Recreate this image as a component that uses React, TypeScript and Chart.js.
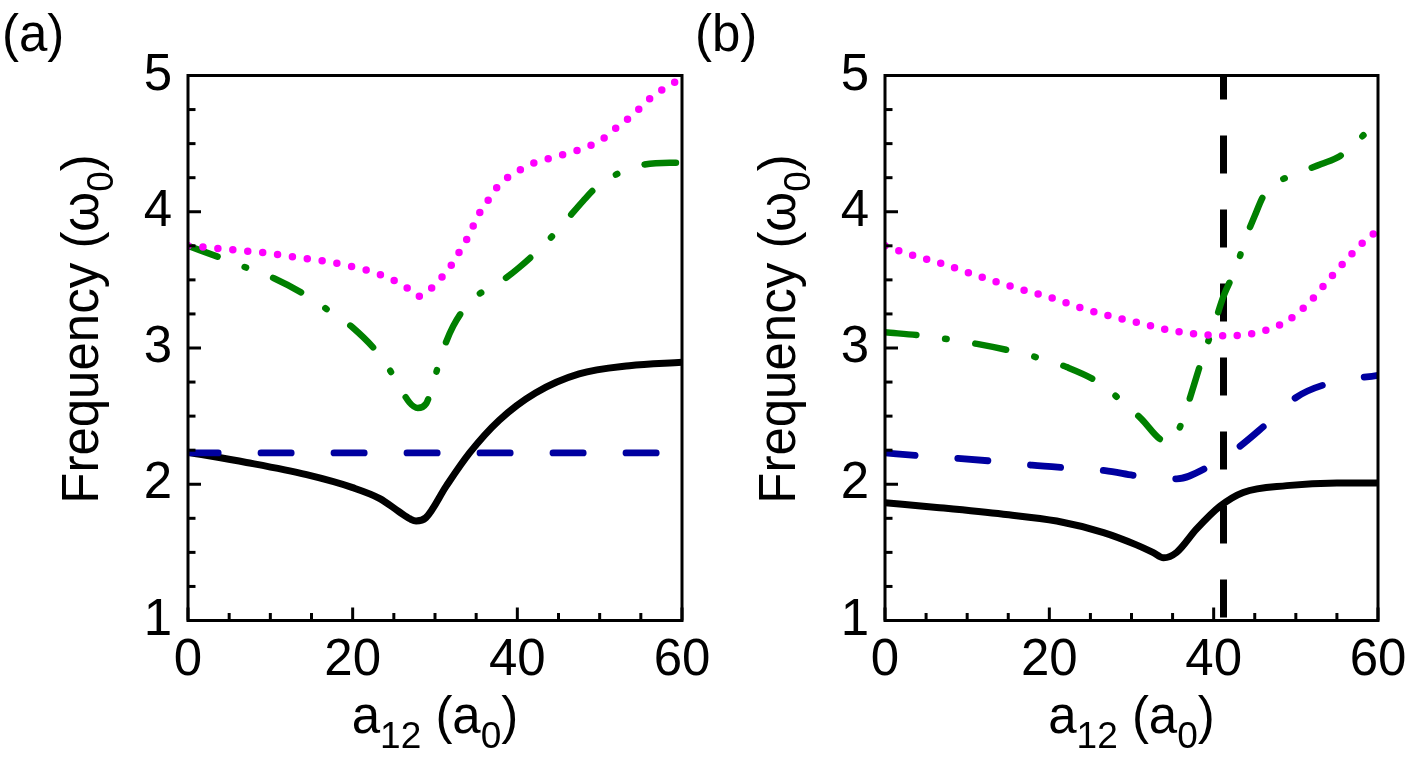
import React, { useEffect, useRef } from "react";
import { Chart, registerables } from "chart.js";

Chart.register(...registerables);

const FONT = '"Liberation Sans", Arial, Helvetica, sans-serif';

// ---------- axis ticks ----------
const xTickValues = [0, 20, 40, 60];
const yTickValues = [1, 2, 3, 4, 5];
const xMinorStep = 5;
const yMinorStep = 0.25;

// ---------- panel (a) ----------
const aSolidX = [0, 7.1, 14.4, 20.0, 23.3, 25.6, 27.0, 27.7, 28.9, 31.4, 34.2, 37.8, 42.2, 47.5, 53.6, 60];
const aSolidY = [2.235, 2.16, 2.07, 1.975, 1.895, 1.8, 1.745, 1.73, 1.755, 1.99, 2.23, 2.47, 2.67, 2.81, 2.87, 2.895];

const aDashX = [0, 60];
const aDashY = [2.23, 2.23];

const aDashDotX = [0, 4.5, 7.5, 10.5, 14.8, 17.2, 20.0, 23.5, 25.3, 26.9, 27.9, 28.9, 29.9, 30.9, 32.2, 34.6, 37.6, 40.2, 43.6, 45.7, 48.0, 49.6, 51.9, 54.9, 58.5, 60];
const aDashDotY = [3.75, 3.65, 3.58, 3.51, 3.37, 3.27, 3.15, 2.93, 2.76, 2.6, 2.56, 2.59, 2.77, 2.97, 3.16, 3.36, 3.47, 3.59, 3.78, 3.92, 4.08, 4.18, 4.27, 4.34, 4.36, 4.36];

const aDotX = [0, 1.9, 5.5, 9.1, 12.7, 16.3, 19.8, 23.3, 26.4, 28.0, 29.4, 30.7, 31.9, 32.9, 33.8, 34.6, 35.4, 36.4, 37.4, 38.8, 40.4, 42.1, 43.8, 45.6, 47.3, 49.0, 50.5, 51.9, 53.2, 54.7, 56.1, 57.7, 59.4, 60];
const aDotY = [3.75, 3.74, 3.72, 3.7, 3.67, 3.64, 3.6, 3.54, 3.45, 3.38, 3.43, 3.51, 3.6, 3.7, 3.79, 3.89, 3.99, 4.08, 4.17, 4.25, 4.31, 4.36, 4.39, 4.42, 4.45, 4.49, 4.54, 4.61, 4.67, 4.75, 4.83, 4.9, 4.96, 4.98];

// ---------- panel (b) ----------
const bSolidX = [0, 6.3, 14.4, 20.9, 26.6, 30.6, 32.6, 33.9, 35.5, 37.9, 40.8, 43.6, 48.9, 55.0, 60];
const bSolidY = [1.865, 1.83, 1.78, 1.73, 1.645, 1.555, 1.5, 1.46, 1.5, 1.67, 1.84, 1.94, 1.99, 2.01, 2.01];

const bDashX = [0, 4.1, 8.9, 13.0, 17.9, 22.1, 26.8, 30.9, 35.5, 39.4, 43.0, 46.0, 50.1, 54.0, 60];
const bDashY = [2.23, 2.21, 2.19, 2.17, 2.14, 2.12, 2.1, 2.06, 2.04, 2.13, 2.27, 2.42, 2.64, 2.74, 2.8];

const bDashDotX = [0, 4.7, 8.1, 11.2, 16.0, 19.1, 22.1, 26.2, 28.8, 31.2, 33.5, 34.7, 36.3, 37.3, 38.7, 40.0, 41.2, 42.8, 43.8, 45.0, 46.0, 47.1, 50.1, 53.1, 55.4, 56.8, 59.1, 60];
const bDashDotY = [3.115, 3.09, 3.06, 3.03, 2.97, 2.92, 2.86, 2.74, 2.61, 2.48, 2.33, 2.31, 2.48, 2.67, 2.94, 3.16, 3.38, 3.6, 3.79, 3.97, 4.11, 4.19, 4.28, 4.35, 4.41, 4.48, 4.61, 4.65];

const bDotX = [0, 3.4, 6.9, 10.3, 13.8, 17.2, 20.7, 24.1, 27.7, 31.2, 34.7, 38.3, 41.9, 45.4, 48.7, 51.4, 54.0, 56.2, 58.8, 60];
const bDotY = [3.75, 3.68, 3.62, 3.55, 3.48, 3.42, 3.36, 3.29, 3.23, 3.18, 3.13, 3.1, 3.09, 3.115, 3.19, 3.32, 3.5, 3.65, 3.81, 3.86];

const bVertX = [41.2, 41.2];
const bVertY = [1, 5];

// ---------- labels ----------
const yTitleRuns = [{ t: "Frequency (\u03c9" }, { t: "0", sub: true }, { t: ")" }];
const xTitleRuns = [{ t: "a" }, { t: "12", sub: true }, { t: " (a" }, { t: "0", sub: true }, { t: ")" }];

const W = 1412;
const H = 760;
const MAIN_SIZE = 51;
const SUB_SIZE = 37;

type Run = { t: string; sub?: boolean };

function pts(xs: number[], ys: number[]) {
  return xs.map((x, i) => ({ x, y: ys[i] }));
}

function drawRich(ctx: CanvasRenderingContext2D, runs: Run[], cx: number, cy: number, rotate: boolean) {
  ctx.save();
  ctx.translate(cx, cy);
  if (rotate) ctx.rotate(-Math.PI / 2);
  ctx.fillStyle = "#000";
  ctx.textBaseline = "alphabetic";
  ctx.textAlign = "left";
  const widths = runs.map((r) => {
    ctx.font = `${r.sub ? SUB_SIZE : MAIN_SIZE}px ${FONT}`;
    return ctx.measureText(r.t).width;
  });
  const total = widths.reduce((a, b) => a + b, 0);
  let x = -total / 2;
  runs.forEach((r, i) => {
    ctx.font = `${r.sub ? SUB_SIZE : MAIN_SIZE}px ${FONT}`;
    ctx.fillText(r.t, x, r.sub ? 15 : 0);
    x += widths[i];
  });
  ctx.restore();
}

const decorPlugin = {
  id: "panelDecor",
  afterDatasetsDraw(chart: any, _args: any, opts: any) {
    const { ctx, chartArea, scales } = chart;
    const { left, right, top, bottom } = chartArea;
    const xs = scales.x;
    const ys = scales.y;
    ctx.save();
    ctx.strokeStyle = "#000";
    ctx.lineWidth = 3;
    ctx.lineCap = "butt";
    for (let v = ys.min; v <= ys.max + 1e-9; v += yMinorStep) {
      const major = yTickValues.some((t) => Math.abs(t - v) < 1e-6);
      const p = ys.getPixelForValue(v);
      ctx.beginPath();
      ctx.moveTo(left, p);
      ctx.lineTo(left + (major ? 13 : 7.5), p);
      ctx.stroke();
    }
    for (let v = xs.min; v <= xs.max + 1e-9; v += xMinorStep) {
      const major = xTickValues.some((t) => Math.abs(t - v) < 1e-6);
      const p = xs.getPixelForValue(v);
      ctx.beginPath();
      ctx.moveTo(p, bottom);
      ctx.lineTo(p, bottom - (major ? 13 : 7.5));
      ctx.stroke();
    }
    ctx.strokeRect(left, top, right - left, bottom - top);
    ctx.restore();

    drawRich(ctx, yTitleRuns, left - 90, (top + bottom) / 2 - 19, true);
    drawRich(ctx, xTitleRuns, (left + right) / 2, bottom + 112.5, false);

    ctx.save();
    ctx.fillStyle = "#000";
    ctx.font = `${MAIN_SIZE}px ${FONT}`;
    ctx.textBaseline = "alphabetic";
    ctx.textAlign = "left";
    ctx.fillText(opts.label, opts.labelX, opts.labelY);
    ctx.restore();
  },
};

function lineDs(xs: number[], ys: number[], color: string, width: number, dash: number[], cap: string, order: number, extra: any = {}) {
  return {
    data: pts(xs, ys),
    borderColor: color,
    backgroundColor: color,
    borderWidth: width,
    borderDash: dash,
    borderCapStyle: cap,
    borderJoinStyle: "round",
    pointRadius: 0,
    fill: false,
    cubicInterpolationMode: "monotone",
    clip: 0,
    order,
    ...extra,
  };
}

const BLACK = "#000000";
const BLUE = "#0000a0";
const GREEN = "#008000";
const MAGENTA = "#ff00ff";

const SOLID_W = 7;
const DASH_W = 6.8;
const DASHDOT_W = 6.5;
const DOT_W = 7.5;
const blueDash = [37 - DASH_W, 36 + DASH_W];
const greenDash = [38 - DASHDOT_W, 22.5 + DASHDOT_W, 8 - DASHDOT_W, 22.5 + DASHDOT_W];

function makeConfig(panel: "a" | "b") {
  const left = panel === "a" ? 188 : 885;
  const right = panel === "a" ? 682 : 1378;
  const top = 75.5;
  const bottom = 620.5;
  const yAxisW = 100;

  const datasets: any[] =
    panel === "a"
      ? [
          lineDs(aDotX, aDotY, MAGENTA, DOT_W, [0, 15], "round", 1),
          lineDs(aDashDotX, aDashDotY, GREEN, DASHDOT_W, greenDash, "round", 2),
          lineDs(aDashX, aDashY, BLUE, DASH_W, blueDash, "round", 3),
          lineDs(aSolidX, aSolidY, BLACK, SOLID_W, [], "butt", 4),
        ]
      : [
          lineDs(bDotX, bDotY, MAGENTA, DOT_W, [0, 14.6], "round", 1),
          lineDs(bDashDotX, bDashDotY, GREEN, DASHDOT_W, greenDash, "round", 2),
          lineDs(bDashX, bDashY, BLUE, DASH_W, blueDash, "round", 3),
          lineDs(bSolidX, bSolidY, BLACK, SOLID_W, [], "butt", 4),
          lineDs(bVertX, bVertY, BLACK, 7, [38, 36], "butt", 5, {
            cubicInterpolationMode: "default",
            tension: 0,
            borderDashOffset: 71,
          }),
        ];

  return {
    type: "line" as const,
    data: { datasets },
    options: {
      responsive: false,
      animation: false,
      devicePixelRatio: 1,
      events: [],
      layout: {
        padding: { left: left - yAxisW, right: W - right, top, bottom: 0 },
      },
      plugins: {
        legend: { display: false },
        tooltip: { enabled: false },
        title: { display: false },
        panelDecor: {
          label: panel === "a" ? "(a)" : "(b)",
          labelX: panel === "a" ? 2 : 695,
          labelY: 51,
        },
      },
      scales: {
        x: {
          type: "linear",
          min: 0,
          max: 60,
          afterBuildTicks: (s: any) => {
            s.ticks = xTickValues.map((v) => ({ value: v }));
          },
          afterFit: (s: any) => {
            s.height = H - bottom;
            s.paddingLeft = 0;
            s.paddingRight = 0;
          },
          grid: { display: false, drawTicks: false },
          border: { display: false },
          ticks: {
            padding: 10,
            color: "#000",
            maxRotation: 0,
            autoSkip: false,
            font: { size: MAIN_SIZE, family: FONT },
            callback: (v: any) => String(v),
          },
        },
        y: {
          type: "linear",
          min: 1,
          max: 5,
          afterBuildTicks: (s: any) => {
            s.ticks = yTickValues.map((v) => ({ value: v }));
          },
          afterFit: (s: any) => {
            s.width = yAxisW;
            s.paddingTop = 0;
            s.paddingBottom = 0;
          },
          grid: { display: false, drawTicks: false },
          border: { display: false },
          ticks: {
            padding: 16,
            color: "#000",
            autoSkip: false,
            font: { size: MAIN_SIZE, family: FONT },
            callback: (v: any) => String(v),
          },
        },
      },
    },
    plugins: [decorPlugin],
  };
}

function Panel({ which }: { which: "a" | "b" }) {
  const ref = useRef<HTMLCanvasElement | null>(null);
  useEffect(() => {
    if (!ref.current) return;
    const chart = new Chart(ref.current, makeConfig(which) as any);
    return () => chart.destroy();
  }, [which]);
  return (
    <canvas
      ref={ref}
      width={W}
      height={H}
      style={{ position: "absolute", left: 0, top: 0, width: W, height: H }}
    />
  );
}

export default function App() {
  return (
    <div style={{ position: "absolute", left: 0, top: 0, width: W, height: H, background: "#fff", overflow: "hidden" }}>
      <Panel which="a" />
      <Panel which="b" />
    </div>
  );
}
